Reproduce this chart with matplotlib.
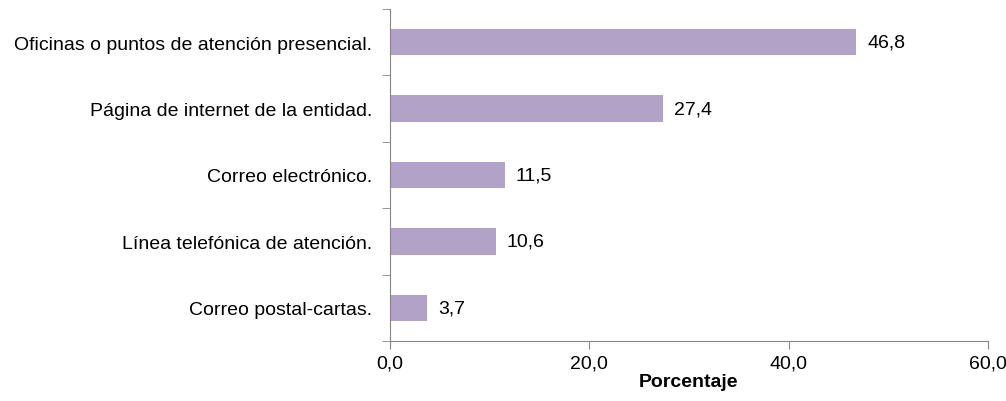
import matplotlib.pyplot as plt
import numpy as np

plt.rcParams['font.family'] = ['Liberation Sans', 'DejaVu Sans']

categorias = ['Oficinas o puntos de atención presencial.',
              'Página de internet de la entidad.',
              'Correo electrónico.',
              'Línea telefónica de atención.',
              'Correo postal-cartas.']
valores = [46.8, 27.4, 11.5, 10.6, 3.7]
xticks = [0, 20, 40, 60]

fig = plt.figure(figsize=(10.06, 4.02), dpi=100)
ax = fig.add_axes([390 / 1006, 60 / 402, 598 / 1006, 332 / 402])

y = np.arange(len(categorias))[::-1]
ax.barh(y, valores, height=0.4, color='#B3A2C7')

for yi, v in zip(y, valores):
    ax.text(v + 1.1, yi, f'{v:.1f}'.replace('.', ','), va='center', ha='left', fontsize=14)

ax.set_xlim(0, 60)
ax.set_ylim(-0.5, len(categorias) - 0.5)
ax.set_xticks(xticks)
ax.set_xticklabels([f'{t:.1f}'.replace('.', ',') for t in xticks], fontsize=14)
ax.set_yticks(y)
ax.set_yticklabels(categorias, fontsize=14)
ax.set_yticks(np.arange(-0.5, len(categorias)), minor=True)
ax.tick_params(axis='y', which='major', length=0, pad=13)
ax.tick_params(axis='y', which='minor', length=6, color='#868686', direction='out')
ax.tick_params(axis='x', length=6, color='#868686', direction='out', pad=4)
ax.set_xlabel('Porcentaje', fontsize=14, fontweight='bold', labelpad=1)

for s in ['top', 'right']:
    ax.spines[s].set_visible(False)
for s in ['left', 'bottom']:
    ax.spines[s].set_color('#868686')

fig.savefig('out.png', dpi=100)
